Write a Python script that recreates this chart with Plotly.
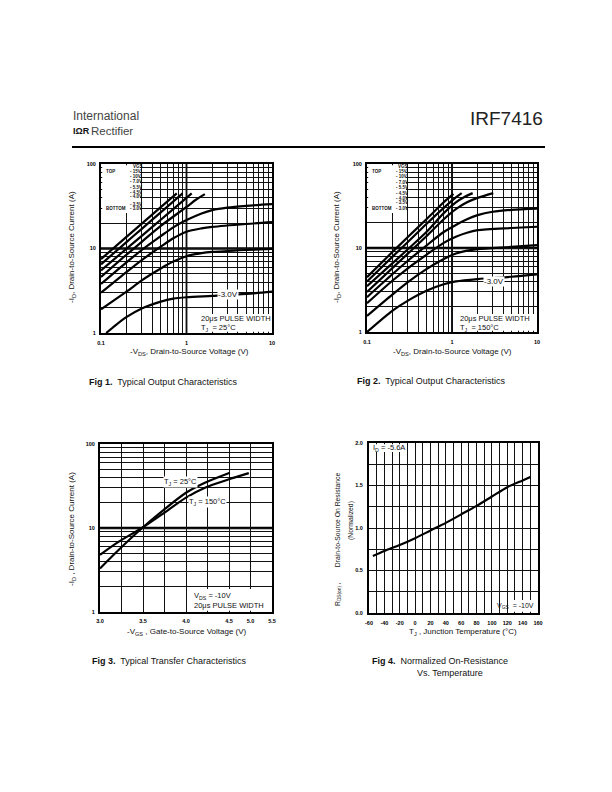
import plotly.graph_objects as go

W, H = 612, 792
def X(p): return p / W
def Y(p): return 1 - p / H

FONT = "Liberation Sans"

# ---------------- Fig 1 data (TJ = 25C) ----------------
VGS_NAMES = ["-15V", "-10V", "-7.0V", "-5.5V", "-4.5V", "-4.0V", "-3.5V", "-3.0V"]
F1_VDS = [
    [0.1, 0.2, 0.3, 0.5, 0.77],
    [0.1, 0.2, 0.3, 0.5, 0.9],
    [0.1, 0.2, 0.3, 0.5, 0.8, 1.15],
    [0.1, 0.2, 0.3, 0.5, 1.0, 1.3, 1.64],
    [0.1, 0.2, 0.3, 0.5, 0.7, 1.0, 1.5, 2.0, 3.0, 5.0, 10.0],
    [0.1, 0.2, 0.3, 0.5, 0.7, 1.0, 1.5, 2.0, 5.0, 10.0],
    [0.1, 0.2, 0.3, 0.5, 0.7, 1.0, 1.5, 2.0, 5.0, 10.0],
    [0.115, 0.15, 0.2, 0.3, 0.5, 0.7, 1.0, 2.0, 5.0, 10.0],
]
F1_ID = [
    [7.5, 13.8, 19.7, 30.9, 45.0],
    [6.5, 12.0, 17.1, 26.8, 45.0],
    [5.5, 10.0, 14.1, 21.9, 32.9, 45.0],
    [4.6, 8.5, 12.0, 18.5, 31.0, 38.0, 44.0],
    [3.8, 6.9, 9.6, 14.0, 17.8, 21.7, 26.0, 28.5, 30.5, 32.0, 33.5],
    [3.0, 5.3, 7.3, 10.5, 13.2, 15.8, 17.3, 18.0, 19.5, 20.5],
    [1.9, 3.1, 4.2, 5.8, 7.0, 8.1, 8.8, 9.1, 9.6, 9.9],
    [1.0, 1.25, 1.55, 1.95, 2.35, 2.55, 2.65, 2.75, 2.9, 3.08],
]

# ---------------- Fig 2 data (TJ = 150C) ----------------
F2_VDS = [
    [0.1, 0.2, 0.3, 0.5, 0.8, 1.04],
    [0.1, 0.2, 0.3, 0.5, 0.8, 1.11, 1.3],
    [0.1, 0.2, 0.3, 0.5, 0.8, 1.11, 1.4, 1.75],
    [0.1, 0.2, 0.3, 0.5, 0.8, 1.11, 1.5, 2.0, 3.06],
    [0.1, 0.2, 0.3, 0.5, 0.8, 1.11, 1.5, 2.0, 3.0, 5.0, 10.0],
    [0.1, 0.2, 0.3, 0.5, 0.8, 1.11, 1.5, 2.0, 5.0, 10.0],
    [0.1, 0.2, 0.3, 0.5, 0.8, 1.11, 1.5, 2.0, 5.0, 10.0],
    [0.1, 0.2, 0.3, 0.5, 0.8, 1.11, 2.0, 5.0, 10.0],
]
F2_ID = [
    [4.5, 9.0, 13.4, 22.0, 35.0, 44.0],
    [4.0, 7.9, 11.7, 19.3, 30.0, 40.0, 45.0],
    [3.5, 6.6, 9.6, 15.5, 26.0, 35.0, 40.5, 45.0],
    [3.0, 5.8, 8.5, 13.8, 22.0, 29.0, 35.0, 39.5, 45.0],
    [2.6, 4.9, 7.0, 10.7, 15.5, 18.8, 22.0, 24.6, 27.0, 28.5, 29.5],
    [2.2, 4.1, 5.7, 8.3, 11.5, 13.6, 15.2, 16.3, 17.3, 17.9],
    [1.55, 2.8, 3.9, 5.6, 7.4, 8.6, 9.3, 9.7, 10.3, 10.8],
    [1.0, 1.8, 2.35, 3.1, 3.7, 4.0, 4.27, 4.55, 4.85],
]

# ---------------- Fig 3 data (transfer) ----------------
F3_VGS_25 = [3.00, 3.21, 3.50, 3.72, 4.00, 4.22, 4.51]
F3_ID_25 = [3.3, 5.4, 10.2, 15.8, 26.3, 34.6, 45.5]
F3_VGS_150 = [3.00, 3.21, 3.50, 3.72, 4.00, 4.22, 4.50, 4.73]
F3_ID_150 = [4.8, 6.8, 10.2, 14.5, 23.0, 30.2, 38.0, 45.0]
F3_XTICKS = [3.0, 3.25, 3.5, 3.75, 4.0, 4.25, 4.5, 4.75, 5.0]
F3_XTEXT = ["3.0", "", "3.5", "", "4.0", "", "4.5", "5.0", "5.5"]

# ---------------- Fig 4 data (normalized RDS(on)) ----------------
F4_TJ = [-55, -40, -20, 0, 20, 40, 60, 80, 100, 120, 140, 150]
F4_R = [0.67, 0.73, 0.80, 0.88, 0.97, 1.06, 1.16, 1.26, 1.37, 1.48, 1.56, 1.60]

LOG_X_GRID = [0.1 * k for k in range(1, 10)] + [float(k) for k in range(1, 10)] + [10.0]
LOG_X_TEXT = ["0.1"] + [""] * 8 + ["1"] + [""] * 8 + ["10"]
LOG_Y_GRID = [float(k) for k in range(1, 10)] + [10.0 * k for k in range(1, 10)] + [100.0]
LOG_Y_TEXT = ["1"] + [""] * 8 + ["10"] + [""] * 8 + ["100"]
F4_XGRID = list(range(-60, 161, 10))
F4_XTEXT = [str(v) if v % 20 == 0 else "" for v in F4_XGRID]
F4_YGRID = [0.0, 0.25, 0.5, 0.75, 1.0, 1.25, 1.5, 1.75, 2.0]
F4_YTEXT = ["0.0", "", "0.5", "", "1.0", "", "1.5", "", "2.0"]

# subplot frames in page pixels (left, top, right, bottom)
FRAMES = {
    1: (101, 164, 272, 333),
    2: (367, 164, 537, 332),
    3: (100, 444, 272, 612),
    4: (369, 443, 538, 613),
}

fig = go.Figure()
LINE = dict(color="black", width=2.2, shape="spline", smoothing=0.8)

for xs, ys in zip(F1_VDS, F1_ID):
    fig.add_trace(go.Scatter(x=xs, y=ys, mode="lines", line=LINE, xaxis="x", yaxis="y",
                             showlegend=False, hoverinfo="skip"))
for xs, ys in zip(F2_VDS, F2_ID):
    fig.add_trace(go.Scatter(x=xs, y=ys, mode="lines", line=LINE, xaxis="x2", yaxis="y2",
                             showlegend=False, hoverinfo="skip"))
fig.add_trace(go.Scatter(x=F3_VGS_25, y=F3_ID_25, mode="lines", line=LINE, xaxis="x3", yaxis="y3",
                         showlegend=False, hoverinfo="skip"))
fig.add_trace(go.Scatter(x=F3_VGS_150, y=F3_ID_150, mode="lines", line=LINE, xaxis="x3", yaxis="y3",
                         showlegend=False, hoverinfo="skip"))
fig.add_trace(go.Scatter(x=F4_TJ, y=F4_R, mode="lines", line=LINE, xaxis="x4", yaxis="y4",
                         showlegend=False, hoverinfo="skip"))

TICKFONT = dict(family=FONT, size=5.5, color="black", weight="bold")
def ax(**kw):
    base = dict(showline=True, linewidth=2, linecolor="black", mirror=True,
                showgrid=True, gridcolor="#111", gridwidth=1, zeroline=False,
                ticks="", tickfont=TICKFONT, tickmode="array", fixedrange=True,
                automargin=False)
    base.update(kw)
    return base

def xdom(i):
    l, t, r, b = FRAMES[i]
    return [X(l), X(r)]
def ydom(i):
    l, t, r, b = FRAMES[i]
    return [Y(b), Y(t)]

layout = dict(
    width=W, height=H, margin=dict(l=0, r=0, t=0, b=0, pad=0, autoexpand=False),
    paper_bgcolor="white", plot_bgcolor="white", showlegend=False,
    xaxis=ax(type="log", range=[-1, 1], domain=xdom(1), anchor="y",
             tickvals=LOG_X_GRID, ticktext=LOG_X_TEXT, ticklabelstandoff=3),
    yaxis=ax(type="log", range=[0, 2], domain=ydom(1), anchor="x",
             tickvals=LOG_Y_GRID, ticktext=LOG_Y_TEXT, ticklabelstandoff=2),
    xaxis2=ax(type="log", range=[-1, 1], domain=xdom(2), anchor="y2",
              tickvals=LOG_X_GRID, ticktext=LOG_X_TEXT, ticklabelstandoff=3),
    yaxis2=ax(type="log", range=[0, 2], domain=ydom(2), anchor="x2",
              tickvals=LOG_Y_GRID, ticktext=LOG_Y_TEXT, ticklabelstandoff=2),
    xaxis3=ax(type="linear", range=[3.0, 5.0], domain=xdom(3), anchor="y3",
              tickvals=F3_XTICKS, ticktext=F3_XTEXT, ticklabelstandoff=2),
    yaxis3=ax(type="log", range=[0, 2], domain=ydom(3), anchor="x3",
              tickvals=LOG_Y_GRID, ticktext=LOG_Y_TEXT, ticklabelstandoff=2),
    xaxis4=ax(type="linear", range=[-60, 160], domain=xdom(4), anchor="y4",
              tickvals=F4_XGRID, ticktext=F4_XTEXT, ticklabelstandoff=3),
    yaxis4=ax(type="linear", range=[0, 2.0], domain=ydom(4), anchor="x4",
              tickvals=F4_YGRID, ticktext=F4_YTEXT, ticklabelstandoff=3),
)
fig.update_layout(**layout)

shapes = []
# emphasised decade lines (drawn under the grid, thicker than it)
for xa, ya in [("x", "y"), ("x2", "y2"), ("x3", "y3")]:
    shapes.append(dict(type="line", xref=xa + " domain", x0=0, x1=1, yref=ya, y0=10, y1=10,
                       line=dict(color="black", width=2.5), layer="below"))
for xa, ya in [("x", "y"), ("x2", "y2")]:
    shapes.append(dict(type="line", xref=xa, x0=1, x1=1, yref=ya + " domain", y0=0, y1=1,
                       line=dict(color="black", width=1.8), layer="below"))

# white boxes behind legend text / notes (placed where no curve passes)
def wbox(i, x0, y0, x1, y1):
    l, t, r, b = FRAMES[i]
    sx = "x" if i == 1 else "x%d" % i
    sy = "y" if i == 1 else "y%d" % i
    shapes.append(dict(type="rect", xref=sx + " domain", yref=sy + " domain",
                       x0=(x0 - l) / (r - l), x1=(x1 - l) / (r - l),
                       y0=(b - y1) / (b - t), y1=(b - y0) / (b - t),
                       fillcolor="white", line=dict(width=0), layer="above"))
wbox(1, 102.2, 165.2, 140, 213)
wbox(2, 368.2, 165.2, 406, 213)
wbox(1, 197, 314, 270.8, 331.8)
wbox(2, 456, 314, 535.8, 330.8)
wbox(3, 189, 589, 270.8, 610.8)
wbox(4, 370.2, 444.2, 407, 452)
wbox(4, 510, 600, 536.8, 611.8)
# header rule
shapes.append(dict(type="line", xref="paper", yref="paper", x0=X(72), x1=X(545), y0=Y(147), y1=Y(147),
                   line=dict(color="black", width=2.2)))
fig.update_layout(shapes=shapes)

ann = []
def txt(s, x, y, size=8, xanchor="left", yanchor="middle", angle=0, bold=False, bg=None, color="#111"):
    d = dict(text=s, x=X(x), y=Y(y), xref="paper", yref="paper", showarrow=False,
             xanchor=xanchor, yanchor=yanchor, textangle=angle,
             font=dict(family=FONT, size=size, color=color, weight="bold" if bold else "normal"))
    if bg:
        d["bgcolor"] = bg
        d["borderpad"] = 0
    ann.append(d)

# header
txt("International", 71, 116, size=12, color="#444")
txt("<b>IΩR</b>", 71, 131, size=9, color="#111")
txt("Rectifier", 89, 131, size=11.5, color="#444")
txt("IRF7416", 545, 118, size=19, xanchor="right", color="#222")

# legend blocks
LEG_Y1 = [171.5, 176.5, 181, 188, 192.5, 197, 204, 208.5]
LEG_Y2 = [171.5, 176, 182.5, 187, 193, 198, 203, 209]
for names, ys, xl, xv, xg in [(VGS_NAMES, LEG_Y1, 104, 128, 131), (VGS_NAMES, LEG_Y2, 370, 394, 396)]:
    txt("VGS", xg, 166.5, size=4.5, bold=True)
    txt("TOP", xl, ys[0], size=4.5, bold=True)
    txt("BOTTOM", xl, ys[-1], size=4.5, bold=True)
    for n, yy in zip(names, ys):
        txt("- " + n[1:], xv, yy, size=4.5, bold=True)

# curve labels
txt("-3.0V", 228, 294, size=8, xanchor="center", bg="white")
txt("-3.0V", 494, 281, size=8, xanchor="center", bg="white")

# notes
txt("20μs PULSE WIDTH", 199, 318.5, size=7.5)
txt("T<sub>J</sub>  = 25°C", 199, 327.5, size=7.5)
txt("20μs PULSE WIDTH", 458, 318.5, size=7.5)
txt("T<sub>J</sub>  = 150°C", 458, 327.5, size=7.5)
txt("T<sub>J</sub> = 25°C", 163, 482, size=7.5, bg="white")
txt("T<sub>J</sub> = 150°C", 188, 502, size=7.5, bg="white")
txt("V<sub>DS</sub> = -10V", 192, 595.5, size=7.5)
txt("20μs PULSE WIDTH", 192, 605.5, size=7.5)
txt("I<sub>D</sub> = -5.6A", 371, 448, size=7.5)
txt("V<sub>GS</sub>  = -10V", 536, 606, size=7, xanchor="right")

# axis titles
txt("-V<sub>DS</sub>, Drain-to-Source Voltage (V)", 189, 352, size=8, xanchor="center")
txt("-I<sub>D</sub>, Drain-to-Source Current (A)", 72, 247, size=8, xanchor="center", angle=-90)
txt("-V<sub>DS</sub>, Drain-to-Source Voltage (V)", 452, 352, size=8, xanchor="center")
txt("-I<sub>D</sub>, Drain-to-Source Current (A)", 337, 247, size=8, xanchor="center", angle=-90)
txt("-V<sub>GS</sub> , Gate-to-Source Voltage (V)", 187, 632, size=8, xanchor="center")
txt("-I<sub>D</sub> , Drain-to-Source Current (A)", 72, 529, size=8, xanchor="center", angle=-90)
txt("T<sub>J</sub> , Junction Temperature (°C)", 463, 632, size=8, xanchor="center")
txt("R<sub>DS(on)</sub> ,        Drain-to-Source On Resistance", 338, 539, size=6.8, xanchor="center", angle=-90)
txt("(Normalized)", 351, 521, size=6.8, xanchor="center", angle=-90)

# captions
txt("<b>Fig 1.</b>  Typical Output Characteristics", 87, 382, size=9)
txt("<b>Fig 2.</b>  Typical Output Characteristics", 355, 381, size=9)
txt("<b>Fig 3.</b>  Typical Transfer Characteristics", 90, 661, size=9)
txt("<b>Fig 4.</b>  Normalized On-Resistance", 370, 661, size=9)
txt("Vs. Temperature", 415, 673, size=9)

fig.update_layout(annotations=ann)
fig.write_html("out.html", config={"displayModeBar": False})
